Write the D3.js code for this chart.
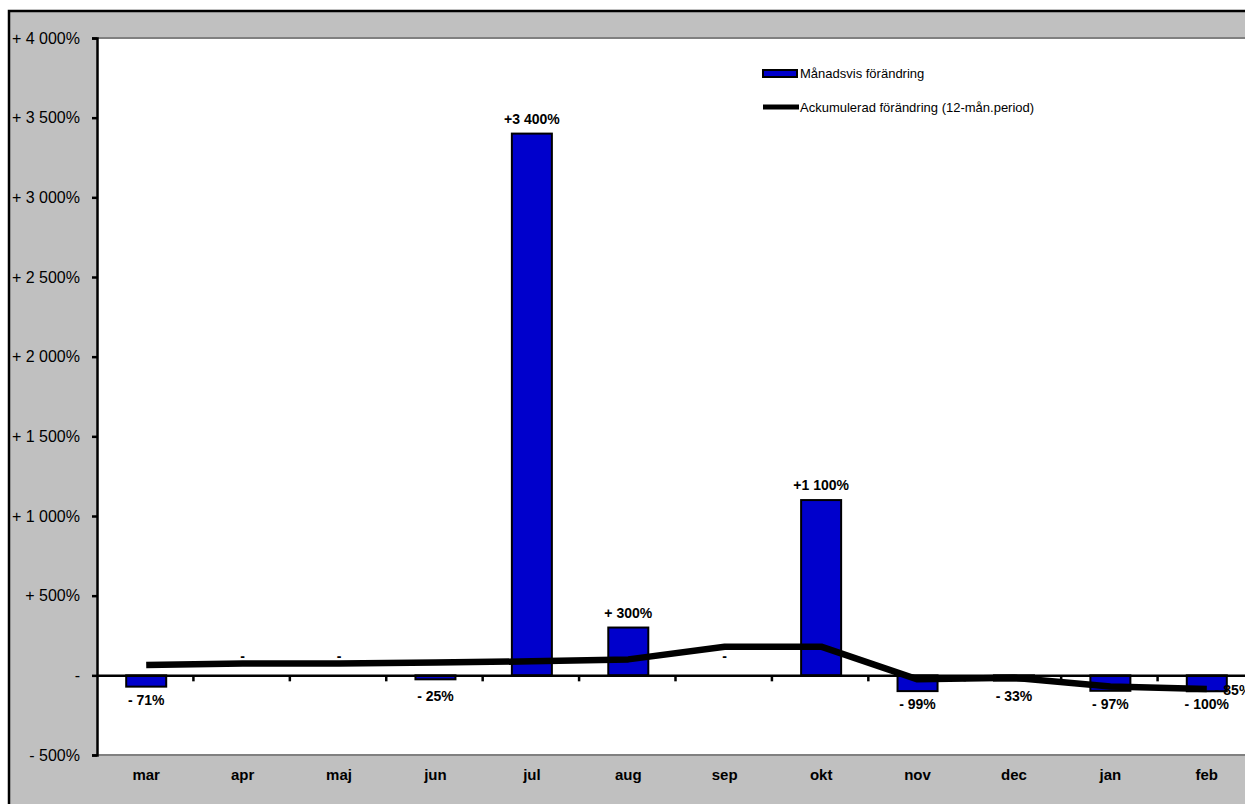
<!DOCTYPE html>
<html>
<head>
<meta charset="utf-8">
<script src="https://cdn.jsdelivr.net/npm/d3@7"></script>
<style>
  html, body { margin: 0; padding: 0; background: #fff; }
  svg { display: block; font-family: "Liberation Sans", Arial, sans-serif; }
</style>
</head>
<body>
<div id="chart"></div>
<script>
const months = ['mar', 'apr', 'maj', 'jun', 'jul', 'aug', 'sep', 'okt', 'nov', 'dec', 'jan', 'feb'];
// monthly change, percent
const monthlyChange = [-71, 0, 0, -25, 3400, 300, 0, 1100, -99, -33, -97, -100];
const monthlyLabels = ['- 71%', '-', '-', '- 25%', '+3 400%', '+ 300%', '-', '+1 100%', '- 99%', '- 33%', '- 97%', '- 100%'];
// accumulated change over 12-month period, percent
const accumulated = [65, 75, 75, 80, 88, 100, 180, 180, -25, -15, -70, -85];
const accumulatedEndLabel = '- 85%';
const yTicks = [-500, 0, 500, 1000, 1500, 2000, 2500, 3000, 3500, 4000];
const yTickLabels = ['- 500%', '-', '+ 500%', '+ 1 000%', '+ 1 500%', '+ 2 000%', '+ 2 500%', '+ 3 000%', '+ 3 500%', '+ 4 000%'];
const legendLabels = ['Månadsvis förändring', 'Ackumulerad förändring (12-mån.period)'];

const W = 1245, H = 804;
const plot = { left: 97, right: 1254, top: 38, bottom: 755 };

const svg = d3.select('#chart').append('svg')
  .attr('width', W)
  .attr('height', H);

// grey chart area with black outer border
svg.append('rect')
  .attr('x', 9).attr('y', 11)
  .attr('width', W + 10).attr('height', H + 10)
  .attr('fill', '#c0c0c0')
  .attr('stroke', '#000')
  .attr('stroke-width', 2.5);

// white plot area
svg.append('rect')
  .attr('x', plot.left).attr('y', plot.top)
  .attr('width', plot.right - plot.left).attr('height', plot.bottom - plot.top)
  .attr('fill', '#fff');
[plot.top, plot.bottom].forEach(y => {
  svg.append('line')
    .attr('x1', plot.left).attr('x2', plot.right)
    .attr('y1', y).attr('y2', y)
    .attr('stroke', '#808080').attr('stroke-width', 2);
});

const x = d3.scaleBand().domain(months).range([plot.left, plot.right]).padding(0);
const y = d3.scaleLinear().domain([-500, 4000]).range([plot.bottom, plot.top]);
const barW = x.bandwidth() * 0.415;
const cx = m => x(m) + x.bandwidth() / 2 + 1;

// y axis
const yAxis = svg.append('g')
  .attr('transform', `translate(${plot.left},0)`)
  .call(d3.axisLeft(y).tickValues(yTicks).tickSizeOuter(0).tickSize(5).tickPadding(12)
    .tickFormat((d, i) => yTickLabels[i]));
yAxis.select('.domain').attr('stroke', '#000').attr('stroke-width', 2.5);
yAxis.selectAll('.tick line').attr('stroke', '#000').attr('stroke-width', 2.5);
yAxis.selectAll('.tick text')
  .attr('fill', '#000')
  .style('font-size', '16px');

// bars
svg.append('g').selectAll('rect')
  .data(monthlyChange)
  .join('rect')
  .attr('x', (d, i) => cx(months[i]) - barW / 2)
  .attr('y', d => y(Math.max(0, d)))
  .attr('width', barW)
  .attr('height', d => Math.abs(y(d) - y(0)))
  .attr('fill', '#0000cc')
  .attr('stroke', '#000')
  .attr('stroke-width', 2);

// zero axis with category ticks
const xAxis = svg.append('g')
  .attr('transform', `translate(0,${y(0)})`)
  .call(d3.axisBottom(x).tickSize(0).tickFormat(''));
xAxis.select('.domain').attr('stroke', '#000').attr('stroke-width', 2.5);
xAxis.selectAll('.tick').remove();
xAxis.selectAll('.sep')
  .data(months.slice(1))
  .join('line')
  .attr('x1', m => x(m)).attr('x2', m => x(m))
  .attr('y1', 0).attr('y2', 6)
  .attr('stroke', '#000').attr('stroke-width', 2.5);

// month labels in grey band
svg.append('g').selectAll('text')
  .data(months)
  .join('text')
  .attr('x', m => cx(m))
  .attr('y', 780)
  .attr('text-anchor', 'middle')
  .style('font-size', '15px')
  .style('font-weight', 'bold')
  .text(m => m);

// accumulated line
svg.append('path')
  .datum(accumulated)
  .attr('fill', 'none')
  .attr('stroke', '#000')
  .attr('stroke-width', 6.5)
  .attr('stroke-linejoin', 'round')
  .attr('d', d3.line().x((d, i) => cx(months[i])).y(d => y(d)));

// bar value labels
svg.append('g').selectAll('text')
  .data(monthlyChange)
  .join('text')
  .attr('x', (d, i) => cx(months[i]))
  .attr('y', d => d > 0 ? y(d) - 10 : d < 0 ? Math.max(y(d) + 18, y(0) + 26) : y(0) - 14)
  .attr('text-anchor', 'middle')
  .style('font-size', '14px')
  .style('font-weight', 'bold')
  .text((d, i) => monthlyLabels[i]);

// end label of accumulated line
svg.append('text')
  .attr('x', cx(months[months.length - 1]) + 8)
  .attr('y', y(accumulated[accumulated.length - 1]) + 6)
  .style('font-size', '14px')
  .style('font-weight', 'bold')
  .text(accumulatedEndLabel);

// legend
const legend = svg.append('g').attr('transform', 'translate(763,0)');
legend.append('rect')
  .attr('x', 0).attr('y', 70)
  .attr('width', 34).attr('height', 7)
  .attr('fill', '#0000cc').attr('stroke', '#000').attr('stroke-width', 2);
legend.append('line')
  .attr('x1', 0).attr('x2', 36)
  .attr('y1', 107).attr('y2', 107)
  .attr('stroke', '#000').attr('stroke-width', 5);
legend.selectAll('text')
  .data(legendLabels)
  .join('text')
  .attr('x', 37)
  .attr('y', (d, i) => 78 + i * 34)
  .style('font-size', '13px')
  .text(d => d);
</script>
</body>
</html>
